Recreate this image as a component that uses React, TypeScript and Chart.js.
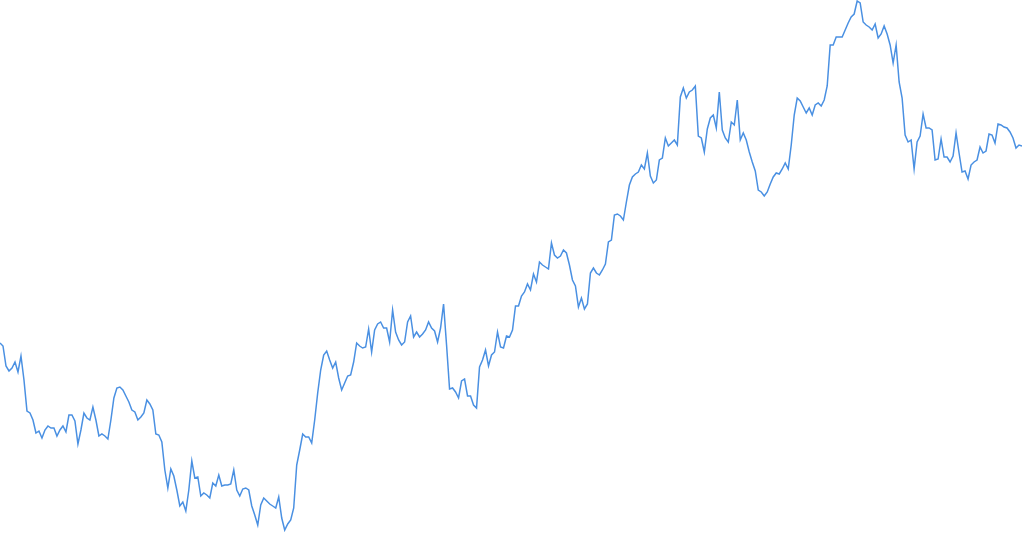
import React, { useEffect, useRef } from "react";
import { Chart, registerables } from "chart.js";

Chart.register(...registerables);

// Series values (height of the line above the baseline)
const seriesValues: number[] = [
  194, 191, 171, 166, 169, 175, 165, 181, 157, 126, 124, 117, 104, 106, 99, 107, 111, 109, 109, 101,
  107, 111, 105, 122, 122, 116, 93, 107, 124, 119, 117, 130, 117, 101, 103, 101, 98, 117, 139, 149,
  150, 147, 141, 135, 127, 125, 117, 120, 124, 137, 133, 127, 103, 102, 95, 67, 49, 68, 61, 47,
  31, 35, 26, 47, 76, 59, 60, 41, 44, 42, 39, 54, 51, 62, 51, 52, 52, 53, 67, 47,
  41, 48, 49, 47, 31, 22, 12, 32, 39, 36, 33, 31, 29, 40, 19, 7, 13, 17, 29, 72,
  87, 103, 100, 100, 94, 117, 144, 167, 182, 186, 177, 169, 175, 159, 147, 154, 161, 162, 175, 194,
  191, 189, 190, 208, 185, 207, 213, 215, 209, 209, 195, 227, 205, 197, 192, 195, 215, 221, 200, 205,
  200, 203, 207, 215, 209, 206, 195, 209, 233, 192, 148, 149, 145, 139, 156, 158, 141, 141, 132, 129,
  170, 177, 187, 171, 182, 185, 205, 190, 189, 201, 200, 207, 231, 231, 241, 245, 253, 247, 263, 255,
  275, 272, 270, 268, 294, 282, 279, 281, 287, 284, 272, 257, 251, 230, 239, 228, 233, 264, 269, 264,
  262, 267, 273, 295, 297, 322, 323, 321, 317, 335, 352, 360, 363, 365, 372, 368, 384, 361, 354, 357,
  377, 379, 399, 391, 394, 397, 392, 440, 449, 439, 445, 447, 451, 401, 399, 385, 408, 419, 422, 409,
  445, 407, 399, 395, 415, 412, 437, 397, 404, 397, 385, 375, 366, 347, 345, 341, 345, 353, 360, 364,
  363, 368, 374, 368, 392, 422, 439, 436, 430, 424, 429, 422, 432, 434, 431, 437, 451, 492, 492, 500,
  500, 500, 507, 514, 520, 523, 536, 534, 515, 512, 510, 507, 513, 499, 503, 511, 503, 492, 474, 492,
  455, 439, 402, 395, 397, 368, 395, 401, 423, 409, 409, 407, 377, 378, 398, 380, 380, 375, 381, 404,
  384, 365, 366, 358, 372, 375, 377, 390, 384, 386, 403, 402, 394, 413, 412, 410, 409, 405, 399, 389,
  392, 391,
];

// Category labels (one per observation)
const categories: string[] = seriesValues.map((_, i) => String(i + 1));

// Value-axis range
const valueRange: number[] = [0, 537];

export default function App() {
  const canvasRef = useRef<HTMLCanvasElement | null>(null);

  useEffect(() => {
    document.body.style.margin = "0";
    const canvas = canvasRef.current;
    if (!canvas) return;
    const chart = new Chart(canvas, {
      type: "line",
      data: {
        labels: categories,
        datasets: [
          {
            data: seriesValues,
            borderColor: "rgb(74,144,226)",
            borderWidth: 1.5,
            pointRadius: 0,
            pointHoverRadius: 0,
            tension: 0,
            fill: false,
          },
        ],
      },
      options: {
        responsive: false,
        animation: false,
        layout: { padding: 0 },
        plugins: {
          legend: { display: false },
          tooltip: { enabled: false },
          title: { display: false },
        },
        scales: {
          x: { display: false, offset: false },
          y: { display: false, min: valueRange[0], max: valueRange[1] },
        },
      },
    });
    return () => chart.destroy();
  }, []);

  return (
    <div style={{ position: "absolute", left: 0, top: 0, width: 1022, height: 537, background: "#fff" }}>
      <canvas ref={canvasRef} width={1022} height={537} style={{ display: "block" }} />
    </div>
  );
}
